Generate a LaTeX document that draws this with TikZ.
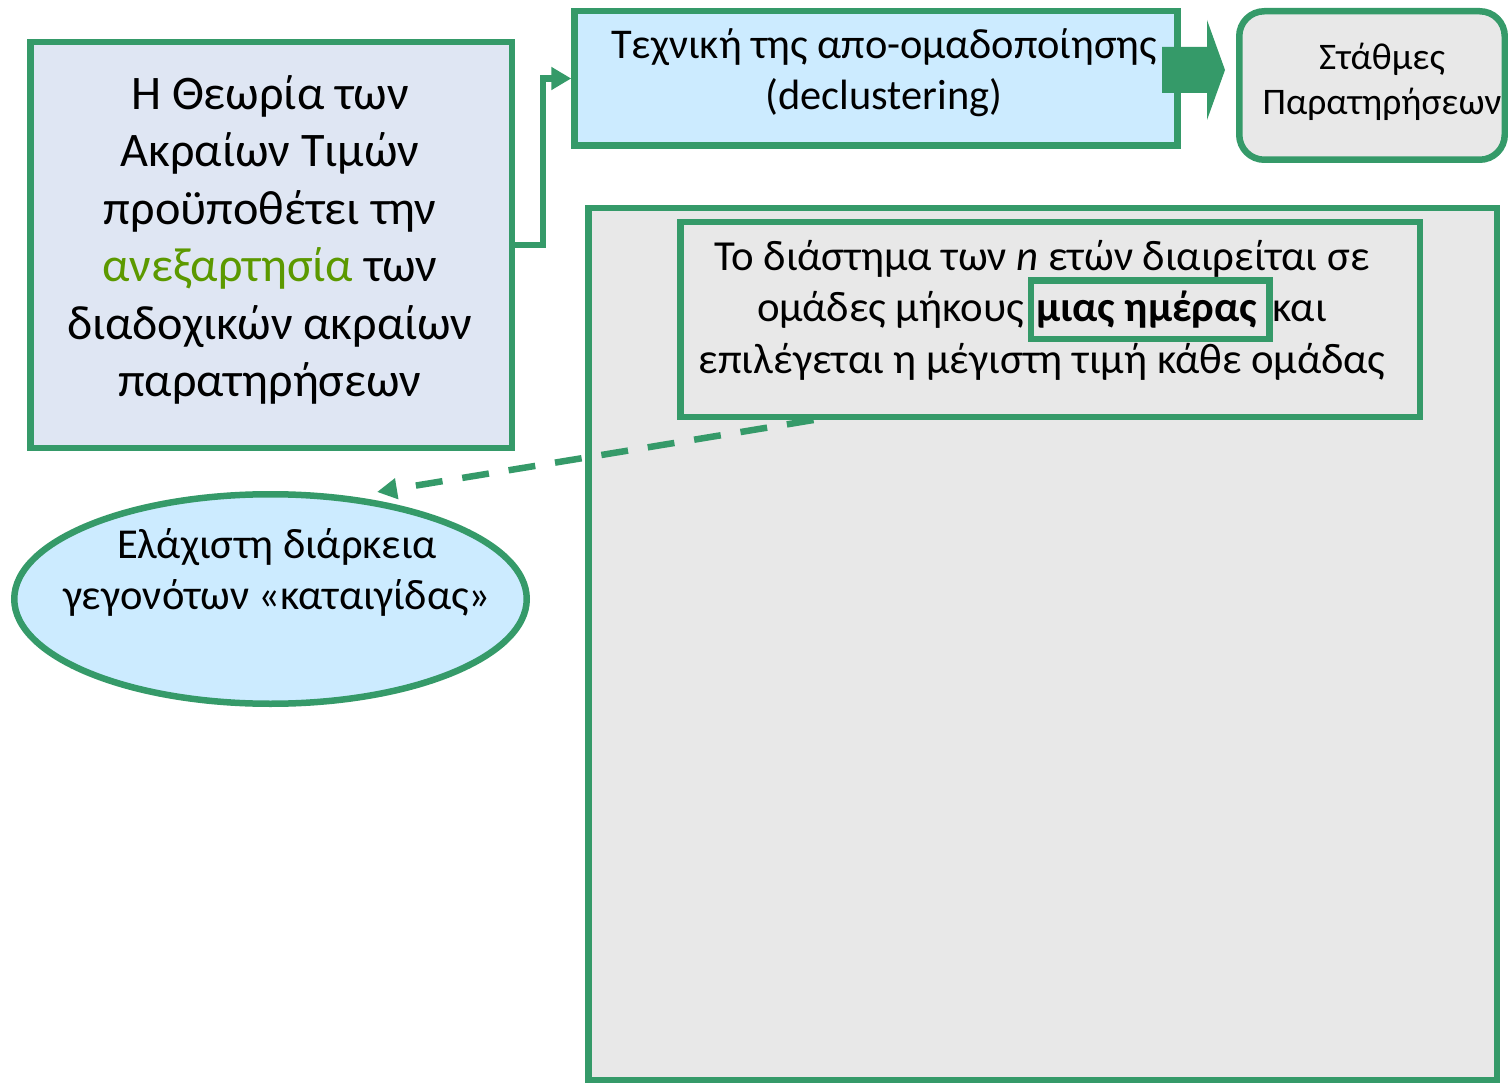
\documentclass[tikz,border=0pt]{standalone}
\usepackage{fontspec}
\setmainfont{Carlito}
\usetikzlibrary{arrows.meta,shapes.geometric}
\definecolor{grn}{RGB}{53,154,105}
\definecolor{lavfill}{RGB}{223,230,243}
\definecolor{skyfill}{RGB}{204,235,255}
\definecolor{boxgray}{RGB}{232,232,232}
\definecolor{keyword}{RGB}{92,153,0}
\setlength{\fboxrule}{6.5pt}
\setlength{\fboxsep}{2pt}
\begin{document}
\begin{tikzpicture}[x=1pt,y=-1pt,
  frame/.style={rectangle, draw=grn, line width=6.5pt, inner sep=0pt},
  txt/.style={align=center, inner sep=0pt, text=black},
  conn/.style={draw=grn, line width=6.5pt, -{Triangle[length=20pt,width=22pt]}},
  dashconn/.style={draw=grn, line width=6.5pt, dash pattern=on 27pt off 20pt,
    -{Triangle[length=20pt,width=20pt]}}]
\useasboundingbox (0,0) rectangle (1508,1083);

% large grey panel and its caption box
\node[frame, fill=boxgray, minimum width=908.5pt, minimum height=871.5pt] (D) at (1042.5,644) {};
\node[frame, fill=boxgray, minimum width=739.5pt, minimum height=194.5pt] (E) at (1050,319.5) {};
\node[txt, font=\fontsize{42.8}{51.5}\selectfont] (Et) at (1042,310)
  {Το διάστημα των \textit{n} ετών διαιρείται σε\\
   ομάδες μήκους\hspace{4pt}\smash{\fcolorbox{grn}{boxgray}{\rule[-12pt]{0pt}{48pt}\textbf{μιας ημέρας}\hspace{7pt}}}και\\
   επιλέγεται η μέγιστη τιμή κάθε ομάδας};

% theory box
\node[frame, fill=lavfill, minimum width=481.5pt, minimum height=405.5pt] (A) at (271,245) {};
\node[txt, font=\fontsize{48.2}{57.5}\selectfont] (At) at (270,240)
  {Η Θεωρία των\\Ακραίων Τιμών\\προϋποθέτει την\\\textcolor{keyword}{ανεξαρτησία} των\\διαδοχικών ακραίων\\παρατηρήσεων};

% declustering box
\node[frame, fill=skyfill, minimum width=603pt, minimum height=134.5pt] (B) at (876,78.5) {};
\node[txt, font=\fontsize{42.4}{50.5}\selectfont] (Bt) at (884,72.5)
  {Τεχνική της απο-ομαδοποίησης\\(declustering)};

% stations box
\node[frame, rounded corners=25pt, fill=boxgray, minimum width=265.5pt, minimum height=148.5pt] (C) at (1372,85.5) {};
\node[txt, font=\fontsize{37.5}{45}\selectfont] (Ct) at (1382,81.5)
  {Στάθμες\\Παρατηρήσεων};

% block arrow from declustering to stations
\fill[grn] (1162,47) -- (1207,47) -- (1207,20) -- (1225,70) -- (1207,120)
  -- (1207,93) -- (1162,93) -- cycle;

% elbow connector from theory box to declustering box
\draw[conn] (A.east) -- ++(28,0) |- (B.west);

% storm-duration ellipse
\node[ellipse, draw=grn, line width=6.5pt, fill=skyfill, inner sep=0pt,
  minimum width=512.5pt, minimum height=209.5pt] (G) at (270.5,599) {};
\node[txt, font=\fontsize{42.6}{51}\selectfont] (Gt) at (277,572)
  {Ελάχιστη διάρκεια\\γεγονότων «καταιγίδας»};

% dashed link from the caption box to the ellipse
\draw[dashconn] ([xshift=136.5pt]E.south west) -- ([xshift=106.5pt,yshift=-1pt]G.north);
\end{tikzpicture}
\end{document}
